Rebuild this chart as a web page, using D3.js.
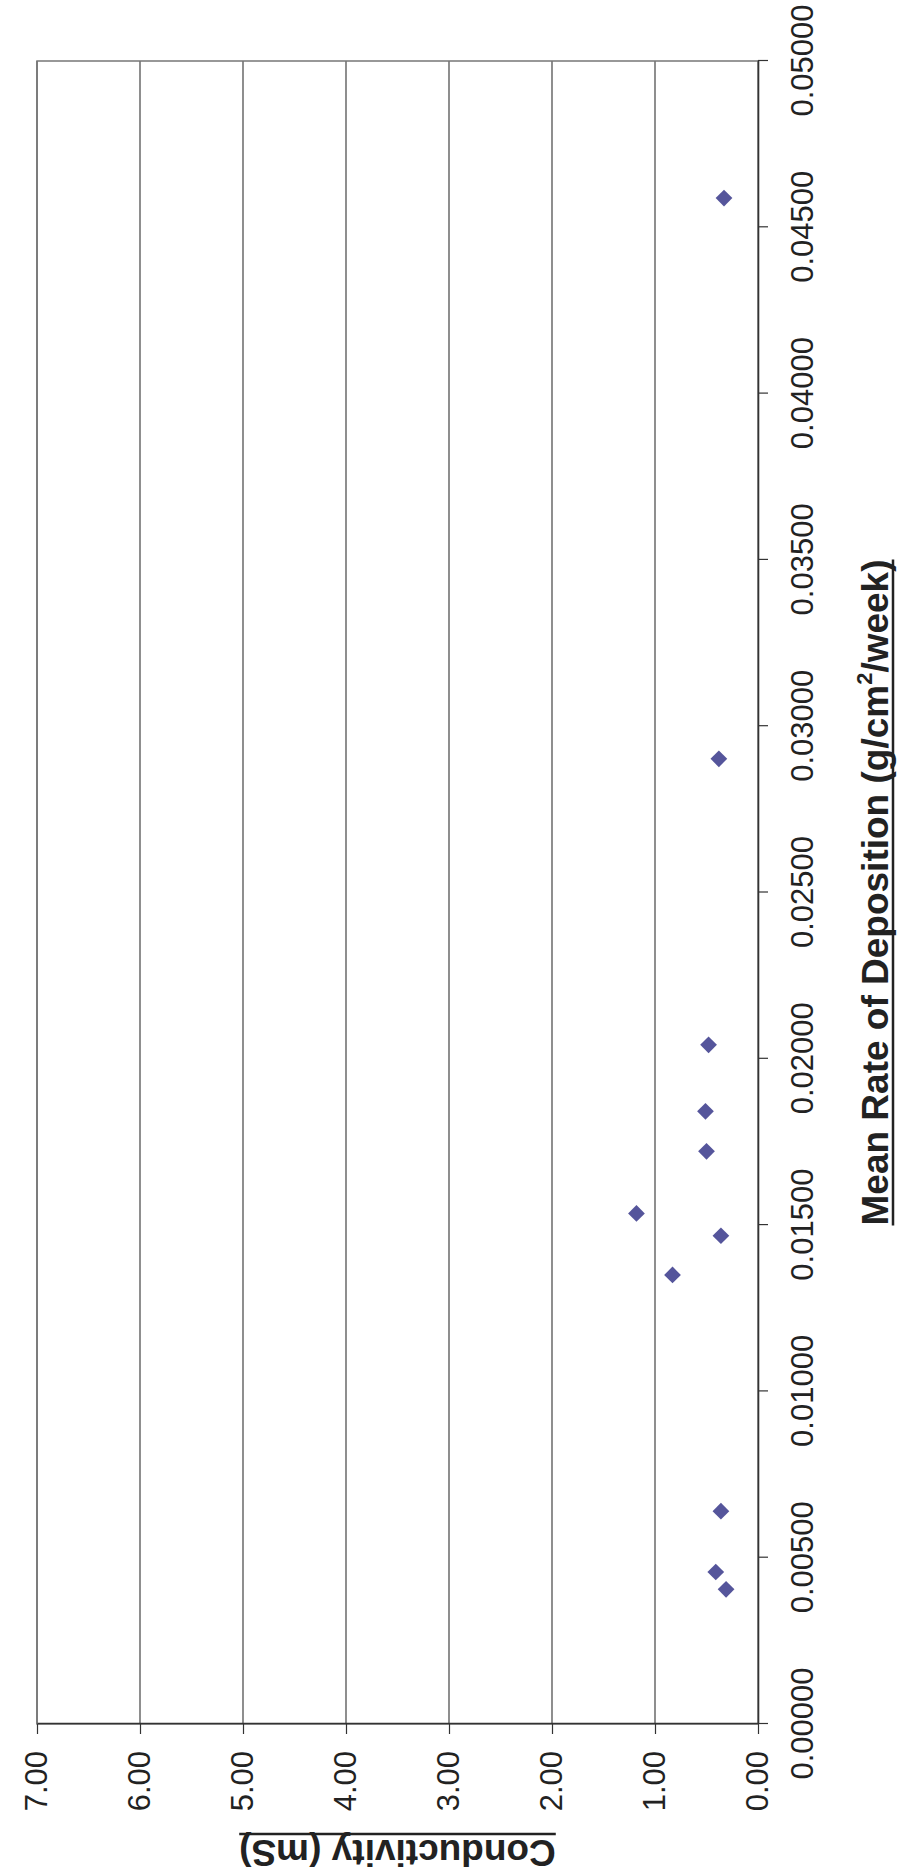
<!DOCTYPE html>
<html>
<head>
<meta charset="utf-8">
<script src="https://cdn.jsdelivr.net/npm/d3@7"></script>
<style>
body { margin: 0; background: white; }
text { font-family: "Liberation Sans", Arial, sans-serif; fill: #222; }
</style>
</head>
<body>
<div id="chart"></div>
<script>
let deposition = [0.00405, 0.00457, 0.00640, 0.01350, 0.01468, 0.01535, 0.01722, 0.01842, 0.02042, 0.02902, 0.04588];
let conductivity = [0.31, 0.41, 0.36, 0.83, 0.36, 1.18, 0.50, 0.51, 0.48, 0.38, 0.33];

let depTicks = [0, 0.005, 0.01, 0.015, 0.02, 0.025, 0.03, 0.035, 0.04, 0.045, 0.05];
let condTicks = [0, 1, 2, 3, 4, 5, 6, 7];

let xTitle = "Mean Rate of Deposition (g/cm";
let yTitle = "Conductivity (mS)";

let pageW = 904;
let pageH = 1875;

// chart is drawn normally, then turned 90deg to lie on the page like the scan
let margin = {
	top: 37,
	right: 61,
	bottom: 146,
	left: 151
};
let width = pageH;
let height = pageW;

let svg = d3.select("#chart")
			.append("svg")
			.attr("width", pageW)
			.attr("height", pageH);

svg.append("rect")
	.attr("width", pageW)
	.attr("height", pageH)
	.attr("fill", "white");

let g = svg.append("g")
			.attr("transform", "translate(0," + pageH + ") rotate(-90)");

let xScale = d3.scaleLinear()
				.domain([0, 0.05])
				.range([margin.left, width - margin.right]);

let yScale = d3.scaleLinear()
				.domain([0, 7])
				.range([height - margin.bottom, margin.top]);

// gridlines
g.selectAll(".grid")
	.data(condTicks.slice(1))
	.enter()
	.append("line")
	.attr("x1", xScale(0))
	.attr("x2", xScale(0.05))
	.attr("y1", d => yScale(d))
	.attr("y2", d => yScale(d))
	.attr("stroke", "#444")
	.attr("stroke-width", 1.2);

// plot border
g.append("rect")
	.attr("x", xScale(0))
	.attr("y", yScale(7))
	.attr("width", xScale(0.05) - xScale(0))
	.attr("height", yScale(0) - yScale(7))
	.attr("fill", "none")
	.attr("stroke", "#777")
	.attr("stroke-width", 1.5);

let xAxis = g.append("g")
			.attr("transform", "translate(0," + yScale(0) + ")")
			.call(d3.axisBottom(xScale)
				.tickValues(depTicks)
				.tickFormat(d3.format(".5f"))
				.tickSize(10)
				.tickSizeOuter(0)
				.tickPadding(23));

let yAxis = g.append("g")
			.attr("transform", "translate(" + xScale(0) + ",0)")
			.call(d3.axisLeft(yScale)
				.tickValues(condTicks)
				.tickFormat(d3.format(".2f"))
				.tickSize(10)
				.tickSizeOuter(0)
				.tickPadding(17));

[xAxis, yAxis].forEach(ax => {
	ax.select(".domain").attr("stroke", "#333").attr("stroke-width", 1.6);
	ax.selectAll(".tick line").attr("stroke", "#333").attr("stroke-width", 1.2);
	ax.selectAll("text")
		.style("font-size", "31px")
		.style("font-family", "'Liberation Sans', Arial, sans-serif")
		.attr("fill", "#222");
});

// markers
let pts = deposition.map((d, i) => ({x: d, y: conductivity[i]}));

g.selectAll(".pt")
	.data(pts)
	.enter()
	.append("path")
	.attr("d", d3.symbol().type(d3.symbolSquare).size(140))
	.attr("transform", d => "translate(" + xScale(d.x) + "," + yScale(d.y) + ") rotate(45)")
	.attr("fill", "#55559b");

// x title with superscript, underlined by hand
let xt = g.append("text")
			.attr("x", (xScale(0) + xScale(0.05)) / 2)
			.attr("y", 888)
			.attr("text-anchor", "middle")
			.style("font-size", "37px")
			.style("font-weight", "bold");
xt.append("tspan").text(xTitle);
xt.append("tspan").attr("dy", -16).style("font-size", "22px").text("2");
xt.append("tspan").attr("dy", 16).text("/week)");

let xb = xt.node().getBBox();
g.append("line")
	.attr("x1", xb.x)
	.attr("x2", xb.x + xb.width)
	.attr("y1", 893)
	.attr("y2", 893)
	.attr("stroke", "#222")
	.attr("stroke-width", 2.5);

// y title
let yg = g.append("g")
			.attr("transform", "translate(35," + (yScale(0) + yScale(7)) / 2 + ") rotate(-90)");
let yt = yg.append("text")
			.attr("text-anchor", "middle")
			.style("font-size", "37px")
			.style("font-weight", "bold")
			.text(yTitle);
let yb = yt.node().getBBox();
yg.append("line")
	.attr("x1", yb.x)
	.attr("x2", yb.x + yb.width)
	.attr("y1", 6)
	.attr("y2", 6)
	.attr("stroke", "#222")
	.attr("stroke-width", 2.5);
</script>
</body>
</html>
